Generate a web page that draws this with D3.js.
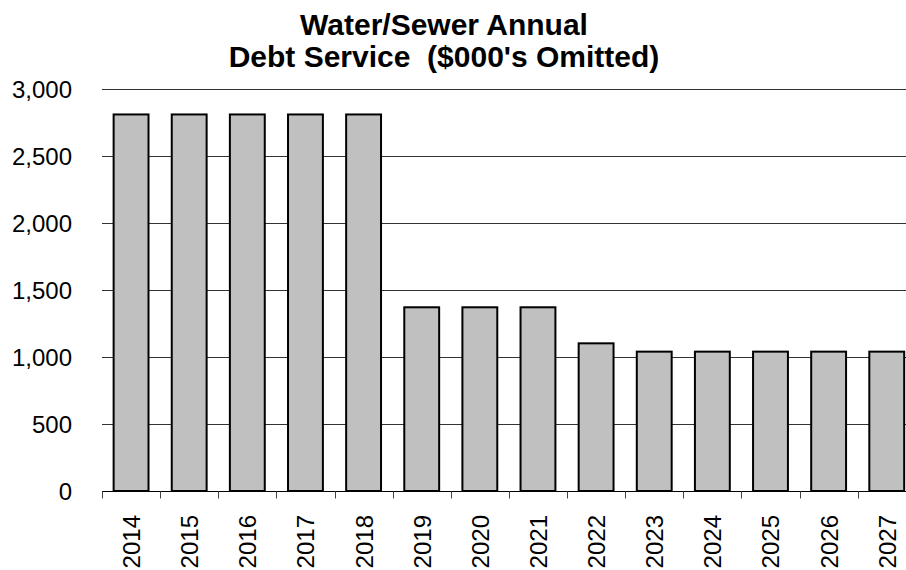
<!DOCTYPE html>
<html>
<head>
<meta charset="utf-8">
<script src="https://cdn.jsdelivr.net/npm/d3@7"></script>
<style>
  body { margin: 0; background: #fff; }
  text { font-family: "Liberation Sans", Arial, sans-serif; fill: #000; }
</style>
</head>
<body>
<div id="chart"></div>
<script>
// chart data
const years = ['2014', '2015', '2016', '2017', '2018', '2019', '2020',
  '2021', '2022', '2023', '2024', '2025', '2026', '2027'];
const debtService = [2810, 2810, 2810, 2810, 2810, 1371, 1371,
  1371, 1102, 1040, 1040, 1040, 1040, 1040];
const yTicks = [0, 500, 1000, 1500, 2000, 2500, 3000];
const titleLines = ['Water/Sewer Annual', "Debt Service  ($000's Omitted)"];

const width = 906, height = 570;
const margin = {top: 89, left: 102, bottom: 79};
const step = 58.13;

const svg = d3.select('#chart').append('svg')
  .attr('width', width)
  .attr('height', height);

const x = d3.scaleBand()
  .domain(years)
  .range([margin.left, margin.left + step * years.length])
  .paddingInner(0.4)
  .paddingOuter(0.2);

const y = d3.scaleLinear()
  .domain([0, 3000])
  .range([height - margin.bottom, margin.top]);

// gridlines
svg.append('g')
  .selectAll('line')
  .data(yTicks.filter(d => d > 0))
  .join('line')
  .attr('x1', margin.left)
  .attr('x2', width)
  .attr('y1', d => Math.round(y(d)) + 0.5)
  .attr('y2', d => Math.round(y(d)) + 0.5)
  .attr('stroke', '#333')
  .attr('stroke-width', 1);

// y labels
svg.append('g')
  .selectAll('text')
  .data(yTicks)
  .join('text')
  .attr('x', 72)
  .attr('y', d => y(d))
  .attr('dy', '0.36em')
  .attr('text-anchor', 'end')
  .style('font-size', '24px')
  .text(d => d3.format(',')(d));

// bars
svg.append('g')
  .selectAll('rect')
  .data(years)
  .join('rect')
  .attr('x', d => x(d))
  .attr('y', (d, i) => y(debtService[i]))
  .attr('width', x.bandwidth())
  .attr('height', (d, i) => y(0) - y(debtService[i]))
  .attr('fill', '#c0c0c0')
  .attr('stroke', '#000')
  .attr('stroke-width', 2);

// x axis line and boundary ticks
const base = Math.round(y(0)) + 0.5;
svg.append('line')
  .attr('x1', margin.left)
  .attr('x2', width)
  .attr('y1', base)
  .attr('y2', base)
  .attr('stroke', '#000');

svg.append('g')
  .selectAll('line')
  .data(years)
  .join('line')
  .attr('x1', d => Math.round(x(d) - x.step() * x.paddingInner() / 2) + 0.5)
  .attr('x2', d => Math.round(x(d) - x.step() * x.paddingInner() / 2) + 0.5)
  .attr('y1', base)
  .attr('y2', base + 7)
  .attr('stroke', '#444');

// x labels
svg.append('g')
  .selectAll('text')
  .data(years)
  .join('text')
  .attr('transform', d => `translate(${x(d) + x.bandwidth() / 2 + 9},515) rotate(-90)`)
  .attr('text-anchor', 'end')
  .style('font-size', '24px')
  .text(d => d);

// title
svg.append('text')
  .attr('x', 444)
  .attr('y', 0)
  .attr('text-anchor', 'middle')
  .attr('xml:space', 'preserve')
  .style('white-space', 'pre')
  .style('font-size', '30px')
  .style('font-weight', 'bold')
  .selectAll('tspan')
  .data(titleLines)
  .join('tspan')
  .attr('x', 444)
  .attr('y', (d, i) => 35 + i * 32)
  .text(d => d);
</script>
</body>
</html>
